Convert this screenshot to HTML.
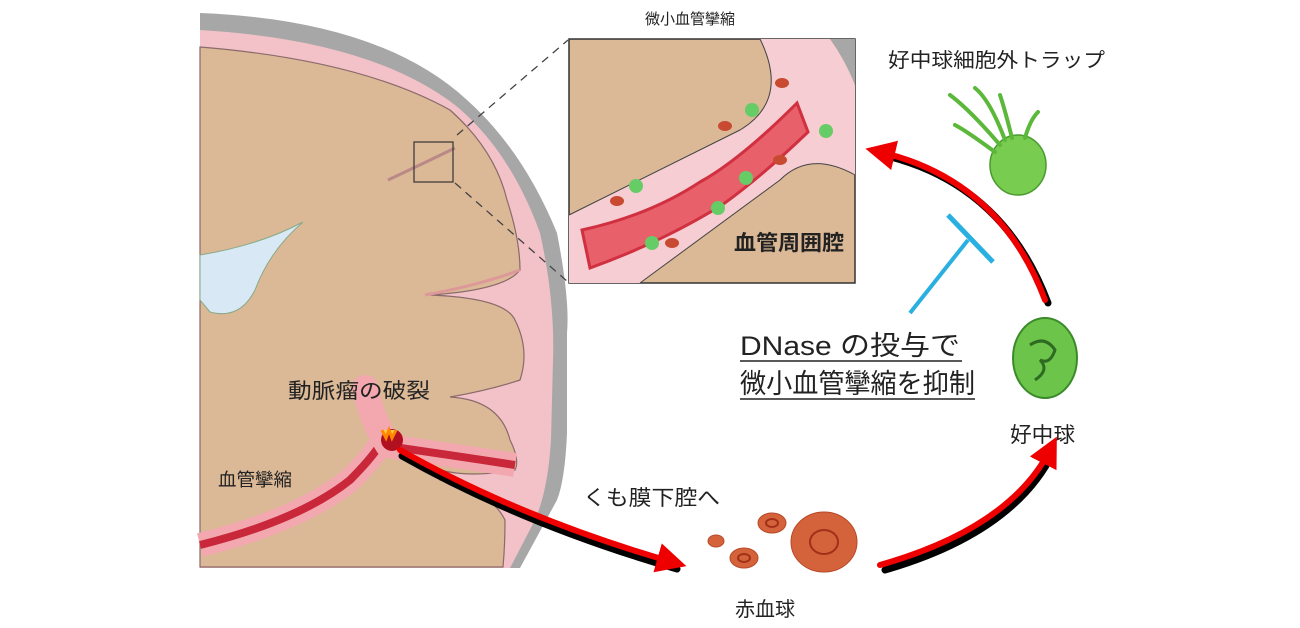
<!DOCTYPE html>
<html><head><meta charset="utf-8"><style>
html,body{margin:0;padding:0;background:#fff;}
svg{display:block;}
text{font-family:"Liberation Sans","Noto Sans CJK JP",sans-serif;fill:#222;}
</style></head><body>
<svg width="1300" height="628" viewBox="0 0 1300 628" xmlns="http://www.w3.org/2000/svg">
<defs>
<marker id="ah" viewBox="0 0 10 10" refX="5" refY="5" markerWidth="5" markerHeight="5" orient="auto"><path d="M0,0 L10,5 L0,10 z" fill="#e00"/></marker>
</defs>
<!-- skull -->
<path d="M200,13 Q380,20 467,100 Q523,150 557,233 Q570,300 567,333 L567,433 Q565,480 557,500 L520,568 L200,568 Z" fill="#a7a7a7"/>
<!-- pink meninges -->
<path d="M200,30 Q370,40 455,105 Q510,150 540,233 Q555,300 553,360 L551,440 Q548,490 535,520 L510,568 L200,568 Z" fill="#f2c2c8"/>
<!-- brain tan -->
<path d="M200,47 Q360,60 450,110 Q495,150 507,200 Q520,240 520,270 Q505,290 430,295 Q505,298 515,320 Q530,350 520,380 Q490,390 450,397 Q500,400 510,440 Q520,460 515,470 Q470,478 440,470 L440,480 Q490,490 505,520 Q505,545 503,567 L200,567 Z" fill="#dbb896" stroke="#8a6a6a" stroke-width="1.2"/>
<!-- sulci -->
<path d="M388,180 Q420,165 455,148" stroke="#b88" stroke-width="3" fill="none"/>
<path d="M425,295 Q480,285 520,270" stroke="#d99" stroke-width="3" fill="none"/>
<!-- ventricle -->
<path d="M200,255 Q260,245 303,222 Q270,250 255,290 Q240,320 210,312 L200,300 Z" fill="#d8e8f5" stroke="#8a8" stroke-width="1"/>
<!-- vessels -->
<path d="M200,545 Q300,520 350,480 Q370,460 380,445 Q450,455 515,465" stroke="#f3a8b0" stroke-width="24" fill="none"/>
<path d="M200,545 Q300,520 350,480 Q370,460 380,445 Q450,455 515,465" stroke="#c8283a" stroke-width="8" fill="none"/>
<path d="M388,445 Q372,420 365,388" stroke="#f3a8b0" stroke-width="26" fill="none" stroke-linecap="round"/>
<circle cx="392" cy="440" r="11" fill="#b01020"/>
<path d="M382,430 l4,8 l3,-8 l3,8 l4,-8" stroke="#f80" stroke-width="3" fill="#fc4"/>
<!-- small box + dashed -->
<rect x="414" y="142" width="39" height="40" fill="none" stroke="#333" stroke-width="1.2"/>
<line x1="457" y1="135" x2="568" y2="40" stroke="#444" stroke-dasharray="8,6" stroke-width="1.3"/>
<line x1="455" y1="183" x2="568" y2="282" stroke="#444" stroke-dasharray="8,6" stroke-width="1.3"/>
<!-- zoom box -->
<rect x="569" y="39" width="286" height="244" fill="#dbb896" stroke="#333" stroke-width="1.5"/>
<path d="M830,39 L855,39 L855,85 Q845,60 830,39 Z" fill="#a7a7a7"/>
<path d="M760,39 Q790,100 740,130 L569,215 L569,283 L640,283 L780,180 Q810,150 855,175 L855,85 Q845,60 830,39 Z" fill="#f5cdd2"/>
<path d="M760,39 Q790,100 740,130 L569,215" stroke="#444" fill="none" stroke-width="1"/>
<path d="M640,283 L780,180 Q810,150 855,175" stroke="#444" fill="none" stroke-width="1"/>
<path d="M582,230 Q650,215 700,182 Q740,160 797,103 L808,132 Q760,178 722,205 Q662,242 590,268 Z" fill="#e8606a" stroke="#d03040" stroke-width="3"/>
<g fill="#c84a30">
<ellipse cx="782" cy="83" rx="7" ry="5"/><ellipse cx="725" cy="126" rx="7" ry="5"/><ellipse cx="780" cy="160" rx="7" ry="5"/><ellipse cx="617" cy="201" rx="7" ry="5"/><ellipse cx="672" cy="243" rx="7" ry="5"/></g>
<g fill="#6c6">
<circle cx="752" cy="110" r="7"/><circle cx="826" cy="131" r="7"/><circle cx="636" cy="186" r="7"/><circle cx="746" cy="178" r="7"/><circle cx="718" cy="208" r="7"/><circle cx="652" cy="243" r="7"/></g>
<!-- texts -->
<text x="645" y="24" font-size="15" textLength="90" lengthAdjust="spacingAndGlyphs">微小血管攣縮</text>
<text x="734" y="250" font-size="21" font-weight="bold" textLength="110" lengthAdjust="spacingAndGlyphs">血管周囲腔</text>
<text x="888" y="67" font-size="20" textLength="217" lengthAdjust="spacingAndGlyphs">好中球細胞外トラップ</text>
<text x="288" y="398" font-size="21" textLength="142" lengthAdjust="spacingAndGlyphs">動脈瘤の破裂</text>
<text x="218" y="486" font-size="18" textLength="74" lengthAdjust="spacingAndGlyphs">血管攣縮</text>
<text x="583" y="505" font-size="21" textLength="137" lengthAdjust="spacingAndGlyphs">くも膜下腔へ</text>
<text x="735" y="616" font-size="20" textLength="60" lengthAdjust="spacingAndGlyphs">赤血球</text>
<text x="1010" y="442" font-size="21" textLength="65" lengthAdjust="spacingAndGlyphs">好中球</text>
<text x="740" y="355" font-size="27" textLength="220" lengthAdjust="spacingAndGlyphs">DNase の投与で</text>
<line x1="740" y1="361" x2="962" y2="361" stroke="#222" stroke-width="1.5"/>
<text x="740" y="393" font-size="27" textLength="235" lengthAdjust="spacingAndGlyphs">微小血管攣縮を抑制</text>
<line x1="740" y1="399" x2="975" y2="399" stroke="#222" stroke-width="1.5"/>
<!-- inhibition T -->
<line x1="910" y1="313" x2="968" y2="240" stroke="#29b0e0" stroke-width="4"/>
<line x1="948" y1="215" x2="993" y2="262" stroke="#29b0e0" stroke-width="5"/>
<!-- arrows (shadow + red) -->
<g fill="none" stroke-linecap="round">
<path d="M400,452 Q520,520 675,565" stroke="#000" stroke-width="7" transform="translate(2,4)"/>
<path d="M400,450 Q520,518 672,562" stroke="#e00" stroke-width="6" marker-end="url(#ah)"/>
<path d="M882,567 Q1010,530 1050,450" stroke="#000" stroke-width="7" transform="translate(3,3)"/>
<path d="M880,565 Q1010,528 1050,450" stroke="#e00" stroke-width="6" marker-end="url(#ah)"/>
<path d="M1045,300 Q1000,180 880,152" stroke="#000" stroke-width="7" transform="translate(3,3)"/>
<path d="M1045,300 Q1000,180 880,152" stroke="#e00" stroke-width="6" marker-end="url(#ah)"/>
</g>
<!-- RBCs -->
<g fill="#d4623a" stroke="#b84a28">
<ellipse cx="716" cy="541" rx="8" ry="6"/>
<ellipse cx="744" cy="558" rx="14" ry="10"/>
<ellipse cx="772" cy="523" rx="14" ry="10"/>
<ellipse cx="824" cy="542" rx="33" ry="30"/></g>
<g fill="none" stroke="#a03018" stroke-width="2"><ellipse cx="824" cy="542" rx="14" ry="12"/><ellipse cx="772" cy="523" rx="6" ry="4"/><ellipse cx="744" cy="558" rx="6" ry="4"/></g>
<!-- neutrophil -->
<ellipse cx="1045" cy="358" rx="32" ry="40" fill="#6cc44a" stroke="#3a8a2a" stroke-width="2"/>
<path d="M1030,345 q15,-10 25,5 q-5,15 -15,10 q10,10 -5,20" stroke="#2f6a22" stroke-width="3" fill="none"/>
<!-- NET -->
<ellipse cx="1018" cy="165" rx="28" ry="30" fill="#78cc50" stroke="#4a9a30" stroke-width="1.5"/>
<g stroke="#5cb83a" stroke-width="4" fill="none" stroke-linecap="round">
<path d="M1000,145 Q970,110 950,95"/><path d="M1005,140 Q990,100 975,88"/><path d="M1012,138 Q1005,110 1000,95"/><path d="M995,152 Q965,130 955,125"/><path d="M1025,138 Q1030,120 1038,112"/></g>
</svg>
</body></html>
